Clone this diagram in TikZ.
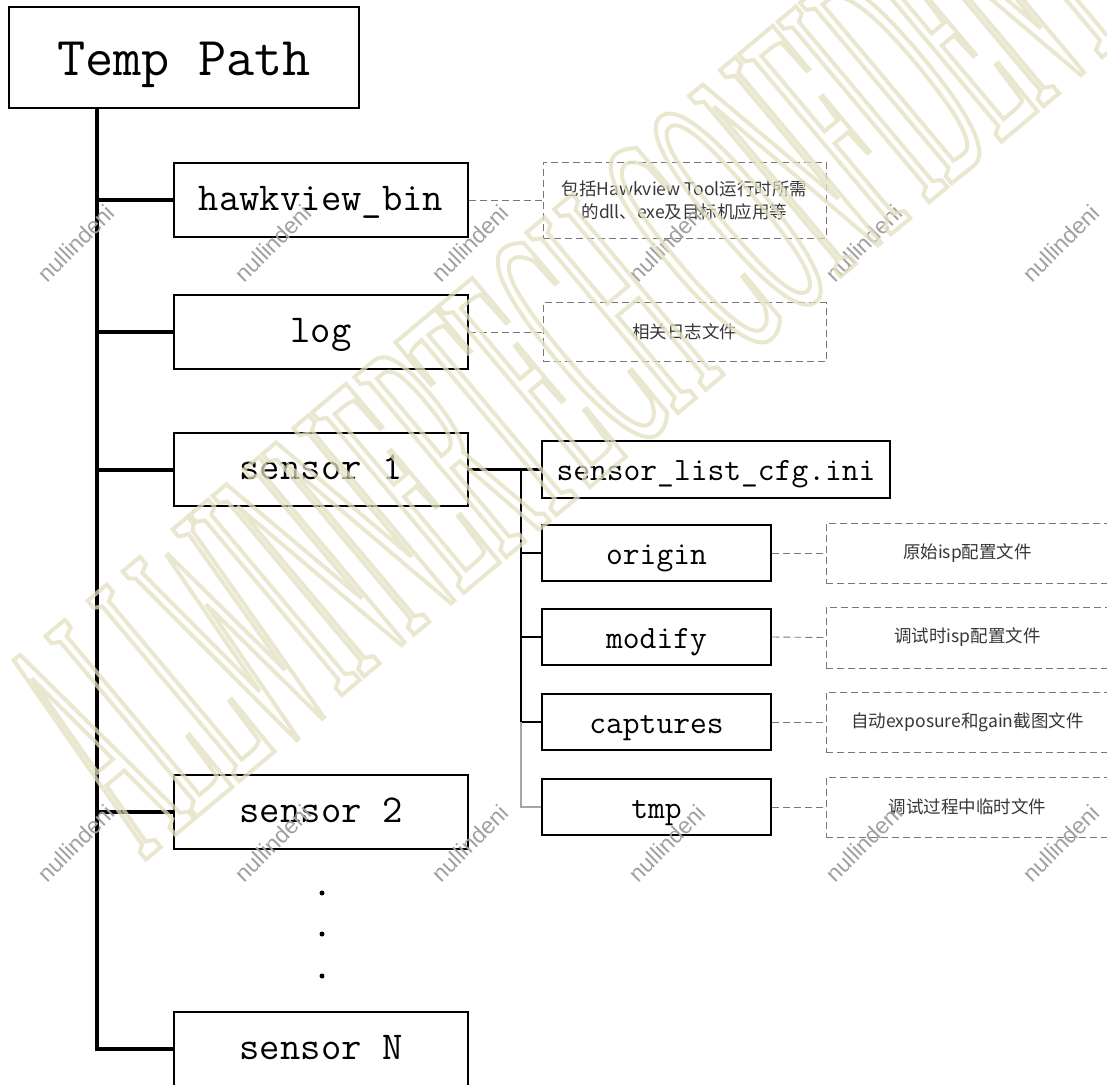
\documentclass[tikz,border=0pt]{standalone}
\usepackage{fontspec}
\newfontfamily\cjk{Noto Sans CJK SC}
\newfontfamily\markfont[FakeStretch=0.25]{Liberation Serif}
\newfontfamily\tagfont{Liberation Sans}
\definecolor{markcol}{RGB}{228,224,194}
\definecolor{tagcol}{RGB}{160,160,160}
\definecolor{desccol}{RGB}{55,55,55}
\definecolor{dashcol}{RGB}{120,120,120}
\begin{document}
\begin{tikzpicture}[x=1pt,y=-1pt,
  folder/.style={draw, line width=2.2pt, minimum width=294pt, minimum height=74pt,
    inner sep=0pt, font=\ttfamily\fontsize{39.5}{40}\selectfont,
    text height=28pt, text depth=8pt},
  subfolder/.style={draw, line width=2.5pt, minimum height=56pt, inner sep=0pt,
    font=\ttfamily\fontsize{32.6}{33}\selectfont, text height=24pt, text depth=2pt},
  note/.style={draw=dashcol, line width=0.9pt, dash pattern=on 7pt off 4pt,
    minimum width=283pt, inner sep=0pt, text=desccol, align=center,
    font=\cjk\fontsize{17.5}{23}\selectfont},
  trunk/.style={line width=4pt},
  twig/.style={line width=2.5pt},
  fadedtwig/.style={line width=1.5pt, draw=black!35},
  noteline/.style={draw=dashcol, line width=0.9pt, dash pattern=on 7pt off 4pt},
  tag/.style={text=tagcol, rotate=45, inner sep=0pt,
    font=\tagfont\fontsize{23}{23}\selectfont},
  dotmark/.style={circle, fill, inner sep=0pt, minimum size=5pt}
]
\useasboundingbox (0,0) rectangle (1107,1084);
\fill[white] (0,0) rectangle (1107,1084);

% root
\node[draw, line width=2pt, minimum width=350pt, minimum height=101pt, inner sep=0pt,
      font=\ttfamily\fontsize{54.7}{55}\selectfont, text height=40pt, text depth=5pt]
      (root) at (184,57.5) {Temp Path};

% first level folders
\node[folder] (hawk) at (321,200)   {hawkview\_bin};
\node[folder] (log)  at (321,332)   {log};
\node[folder, minimum height=73pt] (s1) at (321,469.5) {sensor 1};
\node[folder, line width=1.8pt] (s2) at (321,812) {sensor 2};
\node[folder, line width=1.8pt] (sN) at (321,1049) {sensor N};

% ellipsis between sensor 2 and sensor N
\node[dotmark] (d1) at (322,893) {};
\node[dotmark] (d2) at (322,934) {};
\node[dotmark] (d3) at (322,976) {};

% trunk and branches
\coordinate (ttop) at (97,108);
\coordinate (tbot) at (97,1049);
\draw[trunk] (ttop) -- (tbot) -- (sN.west);
\draw[trunk] (hawk.west -| ttop) -- (hawk.west);
\draw[trunk] (log.west -| ttop) -- (log.west);
\draw[trunk] (s1.west -| ttop) -- (s1.west);
\draw[trunk] (s2.west -| ttop) -- (s2.west);

% notes for the first level
\node[note, minimum height=76pt] (hawknote) at (684.5,200)
  {包括Hawkview Tool运行时所需\\的dll、exe及目标机应用等};
\node[note, minimum height=59pt] (lognote) at (684.5,332) {相关日志文件};
\draw[noteline] (hawk.east) -- (hawknote.west);
\draw[noteline] (log.east) -- (lognote.west);

% contents of sensor 1
\node[subfolder, minimum width=348pt, minimum height=57pt] (cfg) at (716,469.5) {sensor\_list\_cfg.ini};
\node[subfolder, minimum width=229pt] (orig) at (656.5,553) {origin};
\node[subfolder, minimum width=229pt] (mod)  at (656.5,637) {modify};
\node[subfolder, minimum width=229pt] (cap)  at (656.5,722) {captures};
\node[subfolder, minimum width=229pt] (tmp)  at (656.5,807) {tmp};

\coordinate (fork) at (521,469.5);
\draw[twig] (s1.east) -- (cfg.west);
\draw[twig] (fork) -- (cap.west -| fork);
\draw[twig] (orig.west -| fork) -- (orig.west);
\draw[twig] (mod.west -| fork) -- (mod.west);
\draw[twig] (cap.west -| fork) -- (cap.west);
\draw[fadedtwig] (cap.west -| fork) -- (tmp.west -| fork) -- (tmp.west);

% notes for sensor 1 contents
\node[note, minimum height=60pt] (orignote) at (967.5,553) {原始isp配置文件};
\node[note, minimum height=61pt] (modnote)  at (967.5,637.5) {调试时isp配置文件};
\node[note, minimum height=60pt] (capnote)  at (967.5,722) {自动exposure和gain截图文件};
\node[note, minimum height=60pt] (tmpnote)  at (967.5,807) {调试过程中临时文件};
\draw[noteline] (orig.east) -- (orignote.west);
\draw[noteline] (mod.east) -- (modnote.west);
\draw[noteline] (cap.east) -- (capnote.west);
\draw[noteline] (tmp.east) -- (tmpnote.west);

% small rotated tags
\foreach \i in {0,...,5} {
  \node[tag] (tagA\i) at (76+197*\i,243) {nullindeni};
  \node[tag] (tagB\i) at (76+197*\i,843) {nullindeni};
}

% large outlined stamp across the sheet
\node[text=markcol, opacity=0.75, rotate=40, inner sep=0pt] (stamp) at (622,308)
  {\markfont\fontsize{360}{360}\selectfont\special{pdf:literal direct 1 Tr 4 w}ALLWINNERTECH CONFIDENTIAL\special{pdf:literal direct 0 Tr}};
\end{tikzpicture}
\end{document}
